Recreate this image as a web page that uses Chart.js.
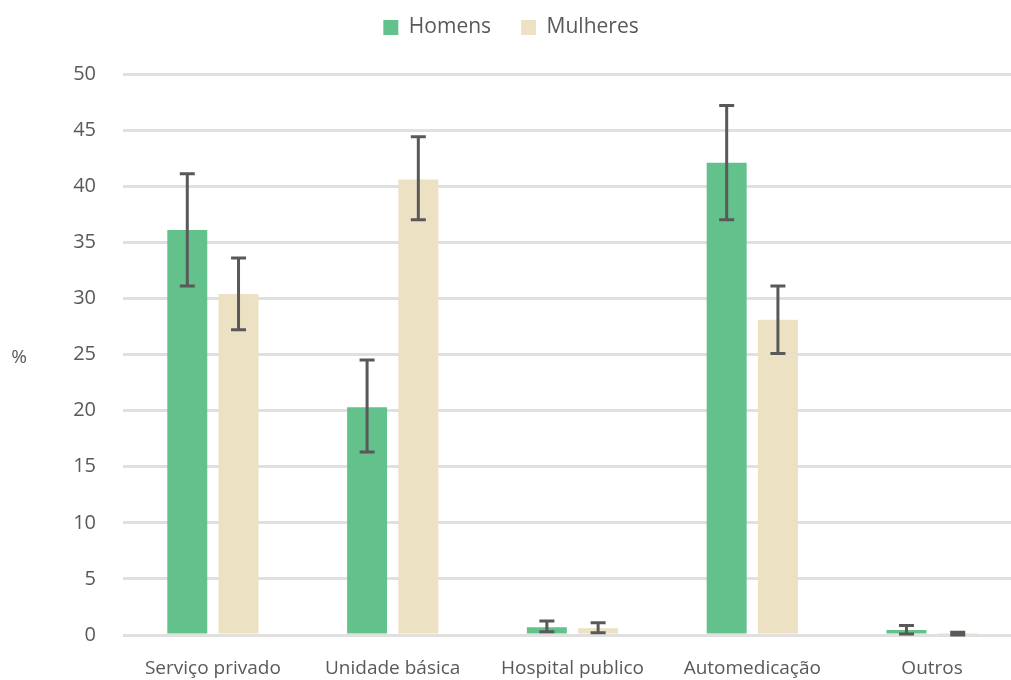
<!DOCTYPE html>
<html>
<head>
<meta charset="utf-8">
<script src="https://cdn.jsdelivr.net/npm/chart.js@4"></script>
<style>
  html, body { margin: 0; padding: 0; background: #fff; overflow: hidden; }
  #wrap { width: 1022px; height: 680px; }
</style>
</head>
<body>
<div id="wrap"><canvas id="grafico" width="1022" height="680"></canvas></div>
<script>
// Dados do gráfico
const categorias = ["Serviço privado", "Unidade básica", "Hospital publico", "Automedicação", "Outros"];
const homens = [36.1, 20.3, 0.7, 42.1, 0.45];
const homensMin = [31.1, 16.3, 0.3, 37.0, 0.1];
const homensMax = [41.1, 24.5, 1.25, 47.2, 0.85];
const mulheres = [30.4, 40.6, 0.6, 28.1, 0.05];
const mulheresMin = [27.2, 37.0, 0.2, 25.1, 0.0];
const mulheresMax = [33.6, 44.4, 1.1, 31.1, 0.25];
const ticksY = [0, 5, 10, 15, 20, 25, 30, 35, 40, 45, 50];

const corTexto = "#595959";
const fonte = "'Open Sans', 'Noto Sans', sans-serif";

// Barras de erro desenhadas em cima das barras
const barrasErro = {
    id: "barrasErro",
    afterDatasetsDraw(chart) {
        const ctx = chart.ctx;
        const y = chart.scales.y;
        const limites = [
            [homensMin, homensMax],
            [mulheresMin, mulheresMax],
        ];
        ctx.save();
        ctx.strokeStyle = corTexto;
        ctx.lineWidth = 3;
        limites.forEach((lim, ds) => {
            const meta = chart.getDatasetMeta(ds);
            meta.data.forEach((bar, i) => {
                const x = bar.x;
                const y1 = y.getPixelForValue(lim[0][i]);
                const y2 = y.getPixelForValue(lim[1][i]);
                ctx.beginPath();
                ctx.moveTo(x, y1);
                ctx.lineTo(x, y2);
                ctx.moveTo(x - 7.5, y1);
                ctx.lineTo(x + 7.5, y1);
                ctx.moveTo(x - 7.5, y2);
                ctx.lineTo(x + 7.5, y2);
                ctx.stroke();
            });
        });
        ctx.restore();
    },
};

// Título do eixo Y "%" na horizontal
const tituloY = {
    id: "tituloY",
    afterDraw(chart) {
        const ctx = chart.ctx;
        const area = chart.chartArea;
        ctx.save();
        ctx.fillStyle = corTexto;
        ctx.font = "19px " + fonte;
        ctx.textAlign = "center";
        ctx.textBaseline = "middle";
        ctx.fillText("%", 19, (area.top + area.bottom) / 2 + 3);
        ctx.restore();
    },
};

// Espaço extra abaixo da legenda
const espacoLegenda = {
    id: "espacoLegenda",
    beforeInit(chart) {
        const fitOriginal = chart.legend.fit;
        chart.legend.fit = function fit() {
            fitOriginal.bind(chart.legend)();
            this.height += 26;
        };
    },
};

document.addEventListener("DOMContentLoaded", function () {
    const el = document.getElementById("grafico");
    new Chart(el.getContext("2d"), {
        type: "bar",
        data: {
            labels: categorias,
            datasets: [
                {
                    label: "Homens",
                    data: homens,
                    backgroundColor: "#63c28b",
                    borderWidth: 0,
                    barPercentage: 0.78,
                    categoryPercentage: 0.57,
                },
                {
                    label: "Mulheres",
                    data: mulheres,
                    backgroundColor: "#ede1c4",
                    borderWidth: 0,
                    barPercentage: 0.78,
                    categoryPercentage: 0.57,
                },
            ],
        },
        options: {
            responsive: false,
            animation: false,
            devicePixelRatio: 1,
            layout: { padding: { top: -13, left: 0, right: 0, bottom: 0 } },
            plugins: {
                legend: {
                    position: "top",
                    labels: {
                        color: corTexto,
                        font: { family: fonte, size: 21 },
                        boxWidth: 15,
                        boxHeight: 15,
                        padding: 30,
                    },
                },
                tooltip: { enabled: false },
            },
            scales: {
                x: {
                    grid: { display: false, drawTicks: false },
                    border: { display: false },
                    ticks: {
                        color: corTexto,
                        font: { family: fonte, size: 19 },
                        padding: 22,
                        maxRotation: 0,
                    },
                    afterFit(scale) {
                        scale.height = 45;
                    },
                },
                y: {
                    min: 0,
                    max: 50,
                    afterBuildTicks(scale) {
                        scale.ticks = ticksY.map((v) => ({ value: v }));
                    },
                    grid: { color: "#e0e0e0", lineWidth: 3, drawTicks: false },
                    border: { display: false },
                    ticks: {
                        color: corTexto,
                        font: { family: fonte, size: 20 },
                        padding: 27,
                    },
                    afterFit(scale) {
                        scale.width = 123;
                    },
                },
            },
        },
        plugins: [barrasErro, tituloY, espacoLegenda],
    });
});
</script>
</body>
</html>
